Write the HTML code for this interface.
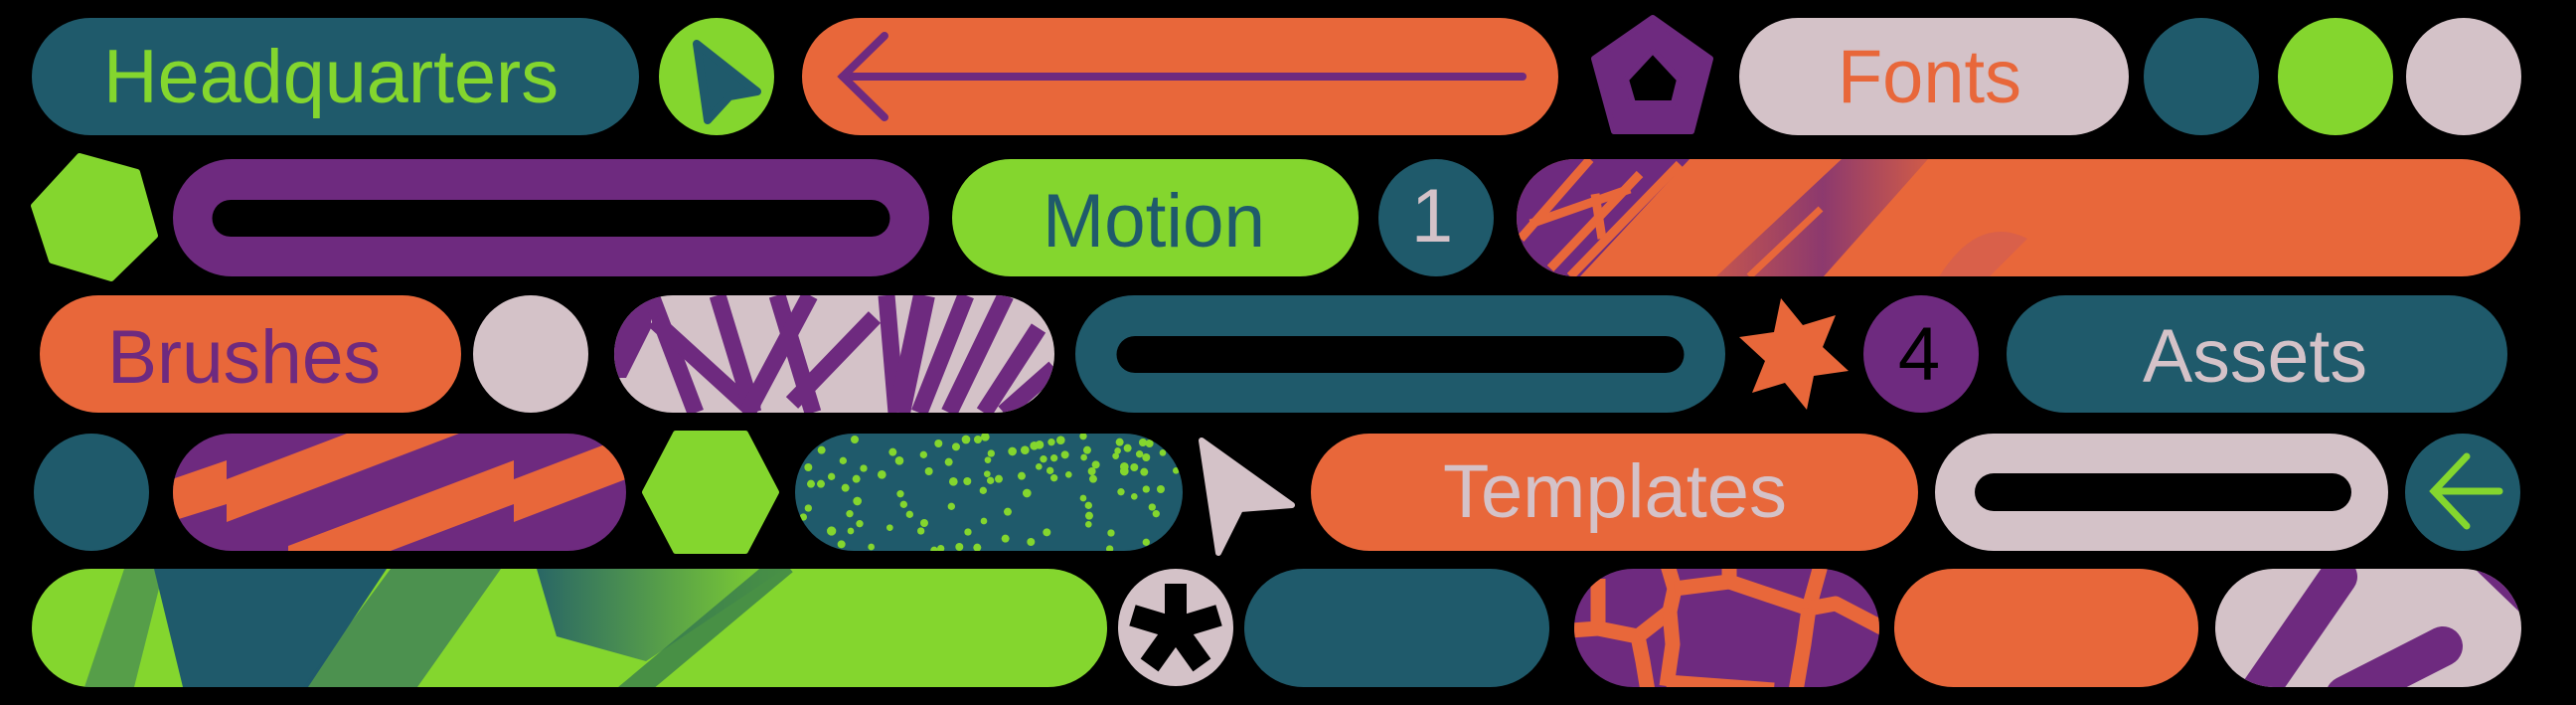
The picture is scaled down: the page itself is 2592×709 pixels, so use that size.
<!DOCTYPE html>
<html><head><meta charset="utf-8"><style>
html,body{margin:0;padding:0;background:#000;}
svg{display:block;}
text{font-family:"Liberation Sans",sans-serif;font-size:76px;}
</style></head><body>
<svg width="2592" height="709" viewBox="0 0 2592 709" xmlns="http://www.w3.org/2000/svg">
<defs>
<clipPath id="c2"><rect x="1526" y="160" width="1010" height="118" rx="59"/></clipPath>
<clipPath id="c3"><rect x="618" y="297" width="443" height="118" rx="59"/></clipPath>
<clipPath id="c4"><rect x="174" y="436" width="456" height="118" rx="59"/></clipPath>
<clipPath id="c5"><rect x="800" y="436" width="390" height="118" rx="59"/></clipPath>
<clipPath id="c6"><rect x="32" y="572" width="1082" height="119" rx="59.5"/></clipPath>
<clipPath id="c7"><rect x="1584" y="572" width="307" height="119" rx="59.5"/></clipPath>
<clipPath id="c8"><rect x="2229" y="572" width="308" height="119" rx="59.5"/></clipPath>
<linearGradient id="g1" x1="0" y1="0" x2="1" y2="0"><stop offset="0" stop-color="#6e2a7f" stop-opacity="0.3"/><stop offset="0.5" stop-color="#6e2a7f" stop-opacity="0.75"/><stop offset="1" stop-color="#6e2a7f" stop-opacity="0.2"/></linearGradient>
<linearGradient id="g2" x1="0" y1="0" x2="1" y2="0"><stop offset="0" stop-color="#1f5a6b" stop-opacity="0.9"/><stop offset="1" stop-color="#1f5a6b" stop-opacity="0"/></linearGradient>
</defs>

<!-- Row 1 -->
<rect x="32" y="18" width="611" height="118" rx="59" fill="#1f5a6b"/>
<text x="104" y="103" fill="#84d62e" textLength="458" lengthAdjust="spacingAndGlyphs">Headquarters</text>
<ellipse cx="721" cy="77" rx="58" ry="59" fill="#84d62e"/>
<polygon points="701,44 762,92 734,97 712,121" fill="#1f5a6b" stroke="#1f5a6b" stroke-width="8" stroke-linejoin="round"/>
<rect x="807" y="18" width="761" height="118" rx="59" fill="#e8673a"/>
<g stroke="#6e2a7f" stroke-width="8" stroke-linecap="round" fill="none">
<line x1="848" y1="77" x2="1532" y2="77"/>
<polyline points="890,36 848,77 890,118"/>
</g>
<path d="M1663,18 L1721,59 L1702,132 L1624,132 L1604,59 Z M1663,51 L1636,80 L1643,104 L1684,104 L1690,80 Z" fill="#6e2a7f" fill-rule="evenodd" stroke="#6e2a7f" stroke-width="6" stroke-linejoin="round"/>
<rect x="1750" y="18" width="392" height="118" rx="59" fill="#d4c2c8"/>
<text x="1849" y="103" fill="#e8673a" textLength="185" lengthAdjust="spacingAndGlyphs">Fonts</text>
<ellipse cx="2215" cy="77" rx="58" ry="59" fill="#1f5a6b"/>
<ellipse cx="2350" cy="77" rx="58" ry="59" fill="#84d62e"/>
<ellipse cx="2479" cy="77" rx="58" ry="59" fill="#d4c2c8"/>

<!-- Row 2 -->
<polygon points="34,207 80,157 138,173 156,237 112,280 52,262" fill="#84d62e" stroke="#84d62e" stroke-width="6" stroke-linejoin="round"/>
<path d="M233,160 H876 A59,59 0 0 1 876,278 H233 A59,59 0 0 1 233,160 Z M232,201 A18.5,18.5 0 0 0 232,238 H877 A18.5,18.5 0 0 0 877,201 Z" fill="#6e2a7f" fill-rule="evenodd"/>
<rect x="958" y="160" width="409" height="118" rx="59" fill="#84d62e"/>
<text x="1049" y="248" fill="#1f5a6b" textLength="224" lengthAdjust="spacingAndGlyphs">Motion</text>
<ellipse cx="1445" cy="219" rx="58" ry="59" fill="#1f5a6b"/>
<text x="1441" y="243" fill="#d4c2c8" text-anchor="middle">1</text>
<g clip-path="url(#c2)">
<rect x="1526" y="160" width="1010" height="118" fill="#e8673a"/>
<polygon points="1526,160 1700,160 1590,278 1526,278" fill="#6e2a7f"/>
<g stroke="#e8673a" stroke-width="9" fill="none">
<line x1="1600" y1="160" x2="1530" y2="240"/>
<line x1="1650" y1="175" x2="1560" y2="270"/>
<line x1="1605" y1="195" x2="1612" y2="240"/>
<line x1="1690" y1="165" x2="1580" y2="278"/>
<line x1="1540" y1="225" x2="1640" y2="190"/>
</g>
<polygon points="1853,160 1940,160 1835,278 1727,278" fill="url(#g1)"/>
<line x1="1832" y1="210" x2="1760" y2="278" stroke="#e8673a" stroke-width="7"/>
<path d="M1950,280 Q1990,215 2040,240 L2000,280 Z" fill="#c95a5a" opacity="0.5"/>
</g>

<!-- Row 3 -->
<rect x="40" y="297" width="424" height="118" rx="59" fill="#e8673a"/>
<text x="108" y="385" fill="#6e2a7f" textLength="275" lengthAdjust="spacingAndGlyphs">Brushes</text>
<ellipse cx="534" cy="356" rx="58" ry="59" fill="#d4c2c8"/>
<g clip-path="url(#c3)">
<rect x="618" y="297" width="443" height="118" fill="#d4c2c8"/>
<g stroke="#6e2a7f" stroke-width="17" fill="none">
<polygon points="618,297 655,297 655,330 630,380 618,380" fill="#6e2a7f" stroke="none"/>
<line x1="655" y1="297" x2="700" y2="415"/>
<line x1="658" y1="322" x2="760" y2="415"/>
<line x1="722" y1="297" x2="758" y2="415"/>
<line x1="782" y1="297" x2="818" y2="415"/>
<line x1="815" y1="297" x2="752" y2="415"/>
<line x1="880" y1="319" x2="797" y2="405"/>
<line x1="892" y1="297" x2="902" y2="415"/>
<line x1="930" y1="297" x2="905" y2="415" stroke-width="22"/>
<line x1="972" y1="297" x2="925" y2="415"/>
<line x1="1012" y1="297" x2="955" y2="415"/>
<line x1="1045" y1="330" x2="990" y2="415"/>
<line x1="1061" y1="370" x2="1010" y2="415"/>
</g>
</g>
<path d="M1141,297 H1677 A59,59 0 0 1 1677,415 H1141 A59,59 0 0 1 1141,297 Z M1142,338 A18.5,18.5 0 0 0 1142,375 H1676 A18.5,18.5 0 0 0 1676,338 Z" fill="#1f5a6b" fill-rule="evenodd"/>
<polygon points="1792,300 1814,327 1847,317 1834,349 1860,373 1825,378 1818,412 1796,385 1763,395 1776,363 1750,339 1785,334" fill="#e8673a"/>
<ellipse cx="1933" cy="356" rx="58" ry="59" fill="#6e2a7f"/>
<text x="1931" y="382" fill="#000" text-anchor="middle">4</text>
<rect x="2019" y="297" width="504" height="118" rx="59" fill="#1f5a6b"/>
<text x="2156" y="384" fill="#d4c2c8" textLength="226" lengthAdjust="spacingAndGlyphs">Assets</text>

<!-- Row 4 -->
<ellipse cx="92" cy="495" rx="58" ry="59" fill="#1f5a6b"/>
<g clip-path="url(#c4)">
<rect x="174" y="436" width="456" height="118" fill="#6e2a7f"/>
<g fill="#e8673a">
<polygon points="170,483 228,463 228,507 170,525"/>
<polygon points="228,482 517,372 517,415 228,525"/>
<polygon points="290,549 517,463 517,507 290,593"/>
<polygon points="517,482 640,435 640,478 517,525"/>
</g>
</g>
<polygon points="649,495 680,436 750,436 781,495 750,554 680,554" fill="#84d62e" stroke="#84d62e" stroke-width="6" stroke-linejoin="round"/>
<g clip-path="url(#c5)">
<rect x="800" y="436" width="390" height="118" fill="#1f5a6b"/>
<g transform="translate(790,430) scale(0.3333)" fill="#84d62e">
<circle cx="210" cy="36" r="12"/><circle cx="110" cy="68" r="12"/><circle cx="175" cy="100" r="11"/><circle cx="70" cy="120" r="12"/><circle cx="140" cy="148" r="11"/><circle cx="78" cy="170" r="12"/><circle cx="108" cy="170" r="12"/><circle cx="182" cy="182" r="12"/><circle cx="215" cy="155" r="12"/><circle cx="237" cy="123" r="11"/><circle cx="292" cy="142" r="13"/><circle cx="325" cy="74" r="12"/><circle cx="345" cy="100" r="13"/><circle cx="218" cy="222" r="13"/><circle cx="195" cy="260" r="11"/><circle cx="225" cy="290" r="11"/><circle cx="140" cy="312" r="14"/><circle cx="198" cy="312" r="10"/><circle cx="170" cy="352" r="12"/><circle cx="70" cy="243" r="11"/><circle cx="55" cy="270" r="11"/><circle cx="260" cy="360" r="10"/><circle cx="316" cy="302" r="10"/><circle cx="348" cy="200" r="11"/><circle cx="358" cy="232" r="11"/><circle cx="376" cy="262" r="11"/><circle cx="420" cy="288" r="12"/><circle cx="410" cy="312" r="11"/><circle cx="418" cy="82" r="11"/><circle cx="434" cy="132" r="12"/><circle cx="463" cy="48" r="12"/><circle cx="516" cy="58" r="12"/><circle cx="546" cy="36" r="13"/><circle cx="582" cy="36" r="12"/><circle cx="604" cy="28" r="13"/><circle cx="494" cy="104" r="12"/><circle cx="508" cy="163" r="13"/><circle cx="550" cy="162" r="12"/><circle cx="598" cy="190" r="11"/><circle cx="612" cy="98" r="10"/><circle cx="622" cy="78" r="11"/><circle cx="610" cy="140" r="10"/><circle cx="620" cy="160" r="11"/><circle cx="645" cy="155" r="12"/><circle cx="502" cy="238" r="11"/><circle cx="600" cy="282" r="10"/><circle cx="552" cy="315" r="11"/><circle cx="526" cy="360" r="12"/><circle cx="470" cy="365" r="11"/><circle cx="450" cy="370" r="11"/><circle cx="580" cy="362" r="12"/><circle cx="672" cy="254" r="12"/><circle cx="665" cy="335" r="12"/><circle cx="686" cy="72" r="13"/><circle cx="724" cy="68" r="13"/><circle cx="752" cy="55" r="13"/><circle cx="768" cy="52" r="13"/><circle cx="804" cy="44" r="11"/><circle cx="832" cy="38" r="13"/><circle cx="780" cy="95" r="11"/><circle cx="812" cy="92" r="11"/><circle cx="845" cy="82" r="12"/><circle cx="766" cy="118" r="10"/><circle cx="800" cy="130" r="11"/><circle cx="812" cy="152" r="11"/><circle cx="856" cy="142" r="10"/><circle cx="714" cy="146" r="12"/><circle cx="730" cy="198" r="13"/><circle cx="790" cy="316" r="12"/><circle cx="742" cy="345" r="12"/><circle cx="900" cy="26" r="11"/><circle cx="912" cy="68" r="12"/><circle cx="902" cy="90" r="10"/><circle cx="938" cy="112" r="12"/><circle cx="926" cy="132" r="12"/><circle cx="930" cy="155" r="12"/><circle cx="900" cy="213" r="10"/><circle cx="916" cy="235" r="11"/><circle cx="918" cy="266" r="12"/><circle cx="916" cy="292" r="10"/><circle cx="984" cy="318" r="11"/><circle cx="980" cy="366" r="11"/><circle cx="1010" cy="44" r="12"/><circle cx="1034" cy="62" r="12"/><circle cx="1004" cy="70" r="10"/><circle cx="998" cy="86" r="10"/><circle cx="1070" cy="80" r="11"/><circle cx="1090" cy="90" r="12"/><circle cx="1080" cy="45" r="12"/><circle cx="1100" cy="48" r="12"/><circle cx="1140" cy="76" r="10"/><circle cx="1024" cy="118" r="13"/><circle cx="1024" cy="132" r="13"/><circle cx="1054" cy="120" r="12"/><circle cx="1084" cy="134" r="12"/><circle cx="1014" cy="194" r="11"/><circle cx="1054" cy="208" r="10"/><circle cx="1090" cy="186" r="11"/><circle cx="1134" cy="186" r="12"/><circle cx="1108" cy="240" r="11"/><circle cx="1120" cy="260" r="11"/><circle cx="1090" cy="346" r="11"/><circle cx="1180" cy="130" r="10"/>
</g>
</g>
<polygon points="1209,443 1300,508 1248,512 1226,556" fill="#d4c2c8" stroke="#d4c2c8" stroke-width="6" stroke-linejoin="round"/>
<rect x="1319" y="436" width="611" height="118" rx="59" fill="#e8673a"/>
<text x="1452" y="520" fill="#d4c2c8" textLength="346" lengthAdjust="spacingAndGlyphs">Templates</text>
<path d="M2006,436 H2344 A59,59 0 0 1 2344,554 H2006 A59,59 0 0 1 2006,436 Z M2006,476 A19,19 0 0 0 2006,514 H2347 A19,19 0 0 0 2347,476 Z" fill="#d4c2c8" fill-rule="evenodd"/>
<ellipse cx="2478" cy="495" rx="58" ry="59" fill="#1f5a6b"/>
<g stroke="#84d62e" stroke-width="7" stroke-linecap="round" fill="none">
<line x1="2449" y1="494" x2="2515" y2="494"/>
<polyline points="2482,459 2449,494 2482,529"/>
</g>

<!-- Row 5 -->
<g clip-path="url(#c6)">
<rect x="32" y="572" width="1082" height="119" fill="#84d62e"/>
<polygon points="125,572 165,572 135,691 85,691" fill="#1f5a6b" opacity="0.45"/>
<polygon points="155,572 389,572 310,691 184,691" fill="#1f5a6b"/>
<polygon points="393,572 504,572 420,691 305,691" fill="#1f5a6b" opacity="0.55"/>
<polygon points="540,572 790,572 650,665 560,640" fill="url(#g2)"/>
<line x1="790" y1="566" x2="630" y2="700" stroke="#2f7350" stroke-width="24" opacity="0.7"/>
</g>
<ellipse cx="1183" cy="631" rx="58" ry="59" fill="#d4c2c8"/>
<g stroke="#000" stroke-width="22" stroke-linecap="square">
<line x1="1183" y1="632" x2="1183" y2="598"/>
<line x1="1183" y1="632" x2="1150" y2="622"/>
<line x1="1183" y1="632" x2="1216" y2="622"/>
<line x1="1183" y1="632" x2="1163" y2="660"/>
<line x1="1183" y1="632" x2="1203" y2="660"/>
</g>
<rect x="1252" y="572" width="307" height="119" rx="59.5" fill="#1f5a6b"/>
<g clip-path="url(#c7)">
<rect x="1584" y="572" width="307" height="119" fill="#6e2a7f"/>
<g stroke="#e8673a" stroke-width="15" fill="none" stroke-linejoin="round">
<polyline points="1580,634 1608,632 1608,582"/>
<polyline points="1608,632 1648,640 1653,665 1658,695"/>
<polyline points="1648,640 1680,615 1685,592 1677,565"/>
<polyline points="1685,592 1740,585 1740,565"/>
<polyline points="1740,585 1820,612 1833,565"/>
<polyline points="1820,612 1847,607 1895,632"/>
<polyline points="1820,612 1815,648 1807,695"/>
<polyline points="1680,615 1683,648 1677,690"/>
<polyline points="1677,686 1785,694"/>
</g>
</g>
<rect x="1906" y="572" width="306" height="119" rx="59.5" fill="#e8673a"/>
<g clip-path="url(#c8)">
<rect x="2229" y="572" width="308" height="119" fill="#d4c2c8"/>
<line x1="2353" y1="580" x2="2270" y2="700" stroke="#6e2a7f" stroke-width="38" stroke-linecap="round"/>
<line x1="2458" y1="650" x2="2360" y2="700" stroke="#6e2a7f" stroke-width="40" stroke-linecap="round"/>
<polygon points="2490,572 2545,572 2545,625" fill="#6e2a7f"/>
<polygon points="2229,585 2265,572 2229,572" fill="#6e2a7f"/>
</g>
</svg>
</body></html>
